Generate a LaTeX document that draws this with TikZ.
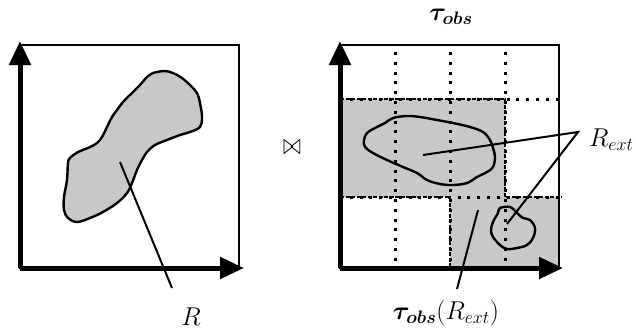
\RequirePackage{fix-cm}
\documentclass[tikz,border=0pt]{standalone}
\usepackage{amsmath,amssymb,bm,graphicx}
\usetikzlibrary{arrows.meta}
\definecolor{regiongray}{RGB}{200,200,200}
\newcommand\biglbl[1]{\scalebox{1.12}{#1}}
\tikzset{
  axis/.style={line width=5pt,-{Triangle[length=24pt,width=21pt]}},
  frame/.style={line width=1.6pt},
  blob/.style={line width=2.4pt,line join=round},
  leader/.style={line width=2pt},
  gridline/.style={line width=3pt,dash pattern=on 3pt off 6.8pt},
  regionedge/.style={line width=1.3pt,dash pattern=on 4pt off 1.5pt},
  lbl/.style={inner sep=0pt,font=\fontsize{23}{28}\selectfont},
}
\begin{document}
\begin{tikzpicture}[x=1pt,y=-1pt]
\useasboundingbox (0,0) rectangle (636,333);
% ---------- left panel ----------
\coordinate (LO) at (20,268);
\coordinate (LY) at (20,41);
\coordinate (LX) at (244,268);
\draw[frame] (20,45) rectangle (239,268);
\draw[blob,fill=regiongray] plot[smooth cycle,tension=0.6] coordinates {
 (157,72) (165,71) (173,73) (182,78) (190,85) (197,93) (200,103) (202,117)
 (200,127) (190,132) (180,135) (167,140) (155,145) (147,152) (142,160)
 (137,170) (132,183) (127,193) (117,203) (103,212) (90,218) (77,222)
 (68,218) (64,210) (64,197) (67,180) (68,163) (70,158) (78,152) (88,148)
 (97,143) (102,137) (107,127) (112,117) (117,110) (123,102) (132,93)
 (140,85) (147,77) (153,73)};
\draw[axis] (LO) -- (LY);
\draw[axis] (LO) -- (LX);
\coordinate (Rp) at (120,162);
\node[lbl] (R) at (191,317) {\biglbl{$R$}};
\draw[leader] (Rp) -- (172,288);
% ---------- middle ----------
\node[inner sep=0pt] (join) at (292,148) {\scalebox{1.1}[1.5]{\fontsize{20}{24}\selectfont$\bowtie$}};
% ---------- right panel ----------
\fill[regiongray] (340,99) -- (505,99) -- (505,197) -- (558,197) -- (558,268)
  -- (450,268) -- (450,197) -- (340,197) -- cycle;
\draw[gridline] (395,52) -- (395,262);
\draw[gridline] (450,52) -- (450,262);
\draw[gridline] (505,52) -- (505,262);
\draw[gridline] (340,99) -- (564,99);
\draw[gridline] (340,197) -- (564,197);
\draw[regionedge] (340,99) -- (505,99) -- (505,197) -- (562,197);
\draw[regionedge] (340,197) -- (450,197) -- (450,268);
\draw[frame] (340,45) rectangle (559,268);
\draw[blob] plot[smooth cycle,tension=0.6] coordinates {
 (367,133) (375,128) (385,123) (393,118) (407,116) (420,117) (437,120)
 (453,123) (470,127) (483,132) (490,140) (493,148) (495,157) (493,167)
 (487,172) (477,177) (467,183) (453,185) (440,184) (427,180) (417,173)
 (403,167) (387,160) (373,153) (365,147) (364,140)};
\draw[blob] plot[smooth cycle,tension=0.6] coordinates {
 (500,208) (510,207) (517,213) (523,218) (530,220) (535,228) (533,238)
 (527,245) (517,248) (507,249) (500,245) (493,237) (491,230) (493,222)
 (498,213)};
\coordinate (RO) at (340,268);
\coordinate (RY) at (340,41);
\coordinate (RX) at (563,268);
\draw[axis] (RO) -- (RY);
\draw[axis] (RO) -- (RX);
\node[lbl] (title) at (451,17) {\biglbl{$\bm{\tau_{obs}}$}};
\node[lbl,anchor=west] (Rext) at (589,140) {\biglbl{$R_{ext}$}};
\node[lbl] (tauR) at (446,313) {\biglbl{$\bm{\tau_{obs}}(R_{ext})$}};
\coordinate (b1) at (423,155);
\coordinate (b2) at (507,224);
\coordinate (rx) at (578,132);
\coordinate (sh) at (478,210);
\draw[leader] (b1) -- (rx) -- (b2);
\draw[leader] (sh) -- (457,289);
\end{tikzpicture}
\end{document}
